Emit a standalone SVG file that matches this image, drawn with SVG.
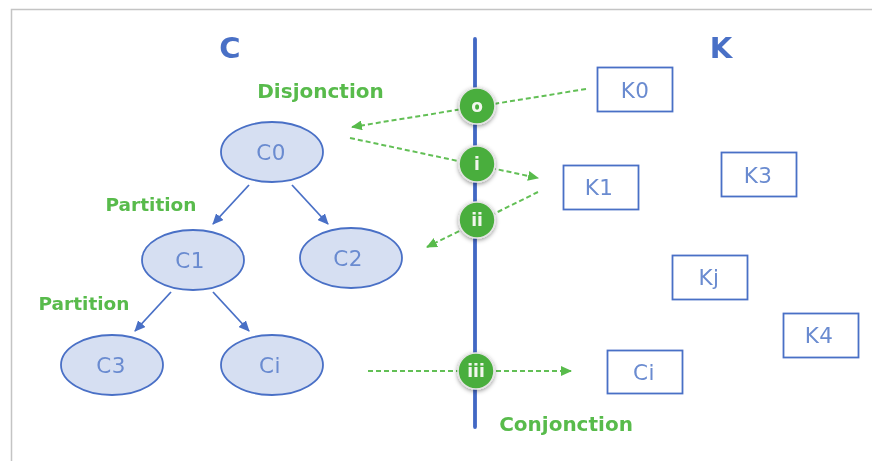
<svg xmlns="http://www.w3.org/2000/svg" width="872" height="461" viewBox="0 0 872 461">
<style>
text{font-family:"DejaVu Sans","Open Sans",sans-serif;text-anchor:middle}
.e{fill:#d6dff2;stroke:#4a70c6;stroke-width:1.8}
.r{fill:#fff;stroke:#4a70c6;stroke-width:1.8}
.n{font-size:21.500px;fill:#6a8bd0;letter-spacing:.4px}
.h{font-size:29px;font-weight:700;fill:#4a70c6}
.g{font-size:20px;font-weight:700;fill:#58bb4c}
.p{font-size:18.500px}
.b{fill:#4aae3c;stroke:#e4e4e4;stroke-width:1.6;filter:url(#s)}
.m{font-size:17px;font-weight:700;fill:#f2f6ee}
.d{fill:none;stroke:#62bf55;stroke-width:2;stroke-dasharray:5 3}
.a{fill:none;stroke:#4a70c6;stroke-width:1.8;marker-end:url(#ab)}
</style>
<defs>
<marker id="ab" markerUnits="userSpaceOnUse" markerWidth="12" markerHeight="10" refX="10" refY="5" orient="auto"><path d="M0 0L11 5L0 10z" fill="#4a70c6"/></marker>
<marker id="ag" markerUnits="userSpaceOnUse" markerWidth="12" markerHeight="10" refX="10" refY="5" orient="auto"><path d="M0 0L11 5L0 10z" fill="#58bb4c"/></marker>
<filter id="s" x="-30%" y="-30%" width="160%" height="160%"><feDropShadow dx="0" dy="1.5" stdDeviation="2" flood-color="#000" flood-opacity=".4"/></filter>
<filter id="soft" filterUnits="userSpaceOnUse" x="0" y="0" width="872" height="461"><feGaussianBlur stdDeviation=".4"/></filter>
</defs>
<rect x="11.500" y="9.500" width="870" height="460" fill="#fff" stroke="#c4c4c4" stroke-width="1.500"/>
<g filter="url(#soft)">
<g id="axis"><line x1="475" y1="39" x2="475" y2="427" stroke="#4268c4" stroke-width="3.800" stroke-linecap="round"/></g>
<g id="title-c"><text class="h" x="230" y="58">C</text></g>
<g id="title-k"><text class="h" x="721" y="58">K</text></g>
<g id="connectors">
<line class="a" x1="249" y1="185" x2="213" y2="224"/>
<line class="a" x1="292" y1="185" x2="328" y2="224"/>
<line class="a" x1="171" y1="292" x2="135" y2="331"/>
<line class="a" x1="213" y1="292" x2="249" y2="331"/>
<line class="d" x1="586" y1="89" x2="352" y2="127" marker-end="url(#ag)"/>
<line class="d" x1="350" y1="138" x2="538" y2="178" marker-end="url(#ag)"/>
<line class="d" x1="538" y1="192" x2="427" y2="247" marker-end="url(#ag)"/>
<line class="d" x1="368" y1="371" x2="571" y2="371" marker-end="url(#ag)"/>
</g>
<g id="node-C0"><ellipse class="e" cx="272" cy="152" rx="51" ry="30"/><text class="n" x="271" y="160">C0</text></g>
<g id="node-C1"><ellipse class="e" cx="193" cy="260" rx="51" ry="30"/><text class="n" x="190" y="268">C1</text></g>
<g id="node-C2"><ellipse class="e" cx="351" cy="258" rx="51" ry="30"/><text class="n" x="348" y="266">C2</text></g>
<g id="node-C3"><ellipse class="e" cx="112" cy="365" rx="51" ry="30"/><text class="n" x="111" y="373">C3</text></g>
<g id="node-Ci"><ellipse class="e" cx="272" cy="365" rx="51" ry="30"/><text class="n" x="270" y="373">Ci</text></g>
<g id="node-K0"><rect class="r" x="597.500" y="67.500" width="75" height="44"/><text class="n" x="635" y="98">K0</text></g>
<g id="node-K1"><rect class="r" x="563.500" y="165.500" width="75" height="44"/><text class="n" x="599" y="195">K1</text></g>
<g id="node-K3"><rect class="r" x="721.500" y="152.500" width="75" height="44"/><text class="n" x="758" y="183">K3</text></g>
<g id="node-Kj"><rect class="r" x="672.500" y="255.500" width="75" height="44"/><text class="n" x="709" y="285">Kj</text></g>
<g id="node-K4"><rect class="r" x="783.500" y="313.500" width="75" height="44"/><text class="n" x="819" y="343">K4</text></g>
<g id="node-Ci2"><rect class="r" x="607.500" y="350.500" width="75" height="43"/><text class="n" x="644" y="380">Ci</text></g>
<g id="label-disjonction"><text class="g" x="320.500" y="98">Disjonction</text></g>
<g id="label-partition1"><text class="g p" x="151" y="211">Partition</text></g>
<g id="label-partition2"><text class="g p" x="84" y="310">Partition</text></g>
<g id="label-conjonction"><text class="g" x="566" y="431">Conjonction</text></g>
<g id="badge-o"><circle class="b" cx="477" cy="106" r="18"/><text class="m" x="477" y="112">o</text></g>
<g id="badge-i"><circle class="b" cx="477" cy="164" r="18"/><text class="m" x="477" y="170">i</text></g>
<g id="badge-ii"><circle class="b" cx="477" cy="220" r="18"/><text class="m" x="477" y="226">ii</text></g>
<g id="badge-iii"><circle class="b" cx="476" cy="371" r="18"/><text class="m" x="476" y="377">iii</text></g>
</g>
</svg>
